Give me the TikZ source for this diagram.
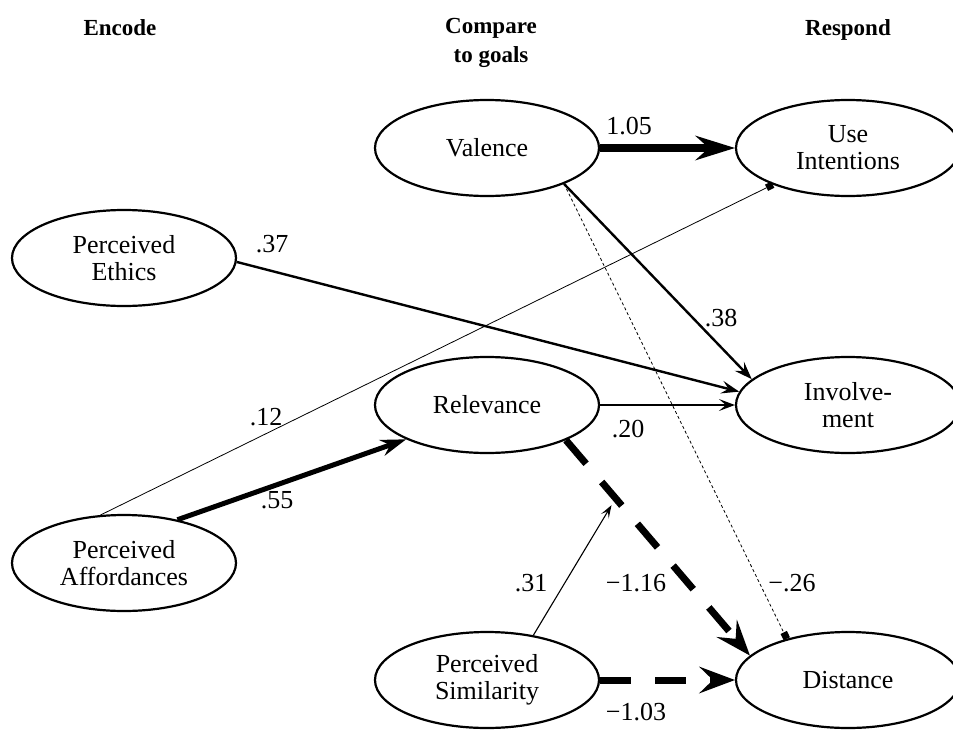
\documentclass[tikz,border=0pt]{standalone}
\usepackage{fontspec}
\setmainfont{Liberation Serif}
\usetikzlibrary{shapes.geometric,arrows.meta}
\newcommand\diagfont{\fontsize{26}{27}\selectfont}
\newcommand\headfont{\fontsize{23}{29}\selectfont\bfseries}
\begin{document}
\begin{tikzpicture}[x=1pt,y=-1pt,
  latent/.style={ellipse,draw,line width=2.2pt,minimum width=224pt,
    minimum height=96pt,inner sep=0pt,align=center,font=\diagfont},
  head/.style={font=\headfont,align=center,inner sep=0pt},
  coef/.style={font=\diagfont,inner sep=0pt},
  heavyarr/.style={line width=8pt,
    -{Stealth[length=40pt,width=25pt,inset=14pt,line width=0pt]}},
  boldarr/.style={line width=5pt,
    -{Stealth[length=26pt,width=17pt,inset=9pt,line width=0pt]}},
  midarr/.style={line width=2.4pt,
    -{Stealth[length=18pt,width=13pt,inset=7pt,line width=0pt]}},
  lightarr/.style={line width=1.4pt,
    -{Stealth[length=16pt,width=12pt,inset=7pt,line width=0pt]}},
  finearr/.style={line width=1.1pt,
    -{Stealth[length=13pt,width=9pt,inset=6pt,line width=0pt]}},
  negarr/.style={line width=7pt,dash pattern=on 31pt off 24pt,
    -{Stealth[length=36pt,width=27pt,inset=14pt,line width=0pt]}},
  hairsq/.style={line width=0.8pt,
    -{Square[length=7pt,width=7pt,line width=0pt]}},
  dotsq/.style={line width=0.8pt,dash pattern=on 3pt off 2.5pt,
    -{Square[length=7pt,width=7pt,line width=0pt]}}
]
\useasboundingbox (0,0) rectangle (953,731);

% column headings
\node[head,anchor=base] (hEnc) at (120,35) {Encode};
\node[head,anchor=north] (hCmp) at (491,18) {Compare\\to goals};
\node[head,anchor=base] (hRsp) at (848,35) {Respond};

% latent variables
\node[latent] (val)  at (487,148) {Valence};
\node[latent] (use)  at (848,148) {Use\\Intentions};
\node[latent] (eth)  at (124,258) {Perceived\\Ethics};
\node[latent] (rel)  at (487,405) {Relevance};
\node[latent] (inv)  at (848,405) {Involve-\\ment};
\node[latent] (aff)  at (124,563) {Perceived\\Affordances};
\node[latent] (sim)  at (487,680) {Perceived\\Similarity};
\node[latent] (dist) at (848,680) {Distance};

% paths
\draw[heavyarr] (val.east) -- (use.west);
\draw[midarr] (val.-25) -- (inv.165);
\draw[dotsq] (val.-25) -- (dist.146);
\draw[midarr] (eth.-2) -- (inv.173);
\draw[hairsq] (aff.116) -- (use.206);
\draw[boldarr] (aff.39) -- (rel.203);
\draw[lightarr] (rel.east) -- (inv.west);
\draw[negarr] (rel.-24) -- coordinate[pos=0.27] (mod) (dist.166);
\draw[finearr,shorten >=8pt] (sim.44) -- (mod);
\draw[negarr] (sim.east) -- (dist.west);

% coefficients
\node[coef] (c105) at (629,126) {1.05};
\node[coef] (c37)  at (272,244) {.37};
\node[coef] (c38)  at (721,318) {.38};
\node[coef] (c12)  at (266,417) {.12};
\node[coef] (c20)  at (628,429) {.20};
\node[coef] (c55)  at (277,500) {.55};
\node[coef] (c31)  at (531,583) {.31};
\node[coef] (c116) at (636,583) {−1.16};
\node[coef] (c26)  at (792,583) {−.26};
\node[coef] (c103) at (636,712) {−1.03};
\end{tikzpicture}
\end{document}
